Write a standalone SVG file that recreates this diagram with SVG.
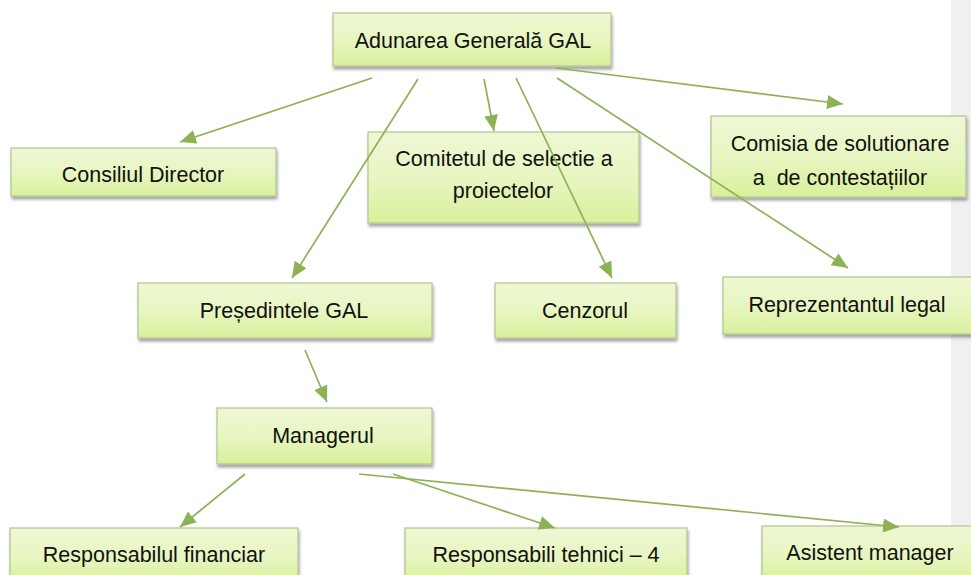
<svg xmlns="http://www.w3.org/2000/svg" width="971" height="575" viewBox="0 0 971 575">
<style>
.box{fill:url(#g);stroke:#b3c48f;stroke-width:1.2;filter:url(#sh)}
.t{font-family:"Liberation Sans",Arial,sans-serif;font-size:21.5px;fill:#111;text-anchor:middle}
.c{stroke:#8db254;stroke-width:1.7;fill:none;marker-end:url(#ah)}
</style>
<defs>
<linearGradient id="g" x1="0" y1="0" x2="0" y2="1">
<stop offset="0" stop-color="#eef7d4"/>
<stop offset="0.5" stop-color="#e8f6c2"/>
<stop offset="1" stop-color="#d8f09c"/>
</linearGradient>
<filter id="sh" x="-5%" y="-10%" width="115%" height="140%">
<feDropShadow dx="1" dy="3" stdDeviation="1.6" flood-color="#000" flood-opacity="0.35"/>
</filter>
<marker id="ah" markerUnits="userSpaceOnUse" markerWidth="16" markerHeight="14" refX="16" refY="7" orient="auto">
<path d="M0,0 L16,7 L0,14 z" fill="#8db254"/>
</marker>
</defs>
<rect x="0" y="0" width="971" height="575" fill="#ffffff"/>
<rect x="951" y="0" width="20" height="575" fill="#f0f0f0"/>

<g id="n-adunarea"><rect class="box" x="333" y="13" width="278" height="53"/><text class="t" x="473" y="48">Adunarea Generală GAL</text></g>
<g id="n-consiliul"><rect class="box" x="11" y="148" width="265" height="48"/><text class="t" x="143" y="182">Consiliul Director</text></g>
<g id="n-comitetul"><rect class="box" x="368" y="132" width="271" height="91"/><text class="t" x="504" y="166">Comitetul de selectie a</text><text class="t" x="503" y="198">proiectelor</text></g>
<g id="n-comisia"><rect class="box" x="711" y="116" width="255" height="81"/><text class="t" x="840" y="151">Comisia de solutionare</text><text class="t" x="840" y="185" xml:space="preserve" style="white-space:pre">a  de contestațiilor</text></g>
<g id="n-presedintele"><rect class="box" x="138" y="283" width="294" height="55"/><text class="t" x="284" y="318">Președintele GAL</text></g>
<g id="n-cenzorul"><rect class="box" x="495" y="283" width="181" height="55"/><text class="t" x="585" y="318">Cenzorul</text></g>
<g id="n-reprezentantul"><rect class="box" x="723" y="277" width="252" height="57"/><text class="t" x="847" y="312">Reprezentantul legal</text></g>
<g id="n-managerul"><rect class="box" x="217" y="408" width="215" height="56"/><text class="t" x="323" y="443">Managerul</text></g>
<g id="n-financiar"><rect class="box" x="10" y="528" width="288" height="56"/><text class="t" x="154" y="562">Responsabilul financiar</text></g>
<g id="n-tehnici"><rect class="box" x="405" y="528" width="282" height="56"/><text class="t" x="546" y="562">Responsabili tehnici – 4</text></g>
<g id="n-asistent"><rect class="box" x="762" y="526" width="216" height="56"/><text class="t" x="870" y="560">Asistent manager</text></g>

<g id="connectors">
<line class="c" x1="372" y1="78" x2="180" y2="142"/>
<line class="c" x1="484" y1="79" x2="494" y2="131"/>
<line class="c" x1="418" y1="79" x2="292" y2="278"/>
<line class="c" x1="516" y1="78" x2="612" y2="278"/>
<line class="c" x1="557" y1="78" x2="848" y2="268"/>
<line class="c" x1="556" y1="68" x2="843" y2="104"/>
<line class="c" x1="305" y1="350" x2="327" y2="402"/>
<line class="c" x1="245" y1="474" x2="180" y2="527"/>
<line class="c" x1="393" y1="474" x2="555" y2="528"/>
<line class="c" x1="359" y1="474" x2="899" y2="527"/>
</g>
</svg>
